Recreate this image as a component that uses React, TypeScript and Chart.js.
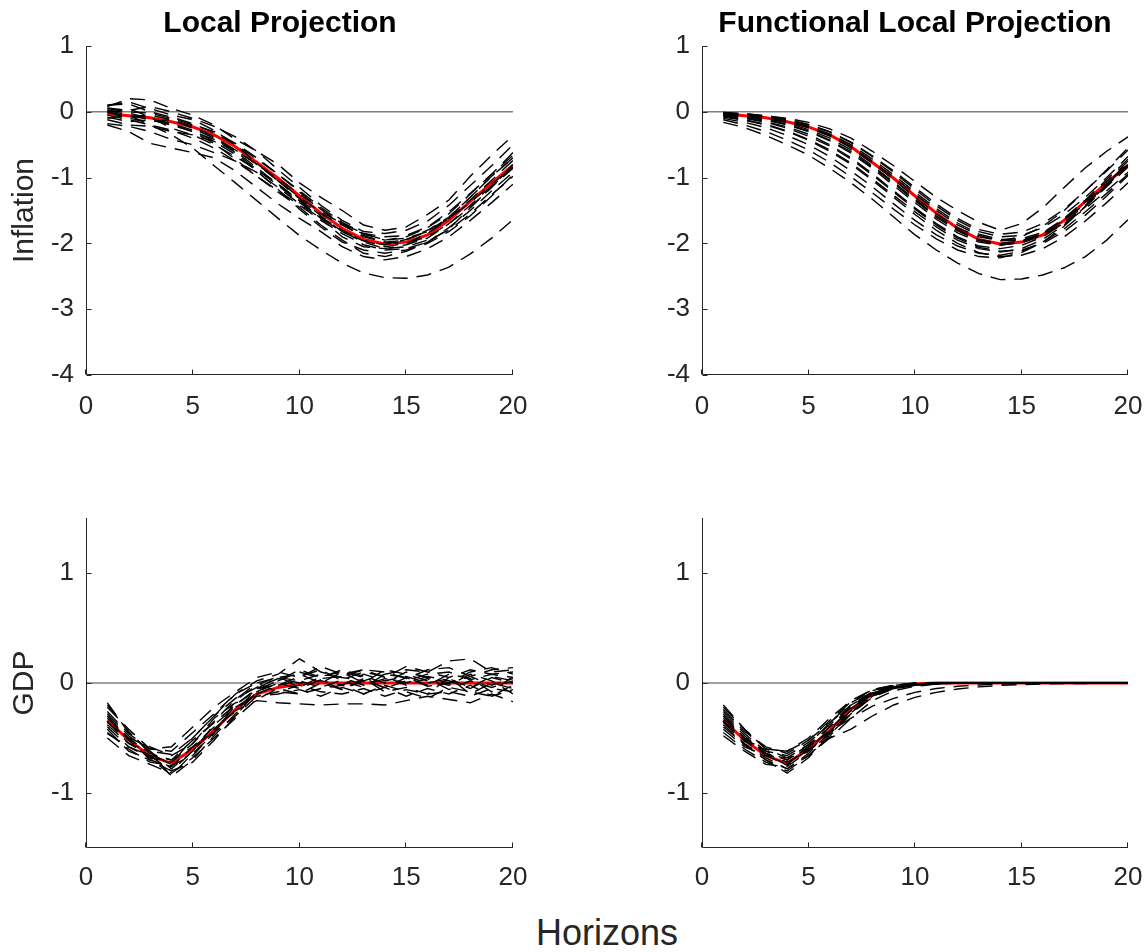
import React, { useEffect, useRef } from "react";
import { Chart, registerables } from "chart.js";

Chart.register(...registerables);

const FONT = "'Liberation Sans', Arial, Helvetica, sans-serif";

const HORIZONS = [1, 2, 3, 4, 5, 6, 7, 8, 9, 10, 11, 12, 13, 14, 15, 16, 17, 18, 19, 20];
const X_TICKS = [0, 5, 10, 15, 20];
const INFLATION_TICKS = [1, 0, -1, -2, -3, -4];
const GDP_TICKS = [1, 0, -1];

const TRUE_INFLATION = [-0.03, -0.06, -0.09, -0.15, -0.23, -0.35, -0.53, -0.77, -1.01, -1.28, -1.54, -1.77, -1.94, -2.01, -1.98, -1.87, -1.65, -1.36, -1.08, -0.81];
const TRUE_GDP = [-0.34, -0.52, -0.66, -0.73, -0.6, -0.43, -0.24, -0.1, -0.04, -0.01, 0, 0, 0, 0, 0, 0, 0, 0, 0, 0];

const LP_INFLATION = [
  [0.02, -0.05, -0.2, -0.35, -0.55, -0.82, -1.08, -1.35, -1.62, -1.88, -2.1, -2.3, -2.45, -2.52, -2.53, -2.48, -2.36, -2.16, -1.92, -1.64],
  [0.08, 0.2, 0.18, 0.05, -0.05, -0.2, -0.42, -0.6, -0.8, -1.08, -1.3, -1.5, -1.72, -1.8, -1.75, -1.56, -1.34, -0.98, -0.66, -0.36],
  [-0.1, -0.05, -0.12, -0.2, -0.3, -0.48, -0.72, -0.98, -1.22, -1.45, -1.72, -1.95, -2.15, -2.2, -2.12, -1.98, -1.76, -1.5, -1.2, -0.92],
  [0.05, 0.0, -0.02, -0.1, -0.2, -0.3, -0.48, -0.7, -0.95, -1.2, -1.45, -1.68, -1.85, -1.9, -1.88, -1.75, -1.52, -1.24, -0.95, -0.62],
  [-0.18, -0.22, -0.3, -0.42, -0.5, -0.62, -0.75, -0.92, -1.15, -1.4, -1.62, -1.82, -1.98, -2.08, -2.05, -1.95, -1.8, -1.55, -1.26, -0.98],
  [0.1, 0.15, 0.05, -0.05, -0.12, -0.28, -0.5, -0.78, -1.05, -1.32, -1.58, -1.82, -1.96, -2.02, -1.94, -1.8, -1.6, -1.3, -0.98, -0.7],
  [-0.05, -0.12, -0.2, -0.28, -0.4, -0.55, -0.75, -0.98, -1.2, -1.42, -1.65, -1.85, -2.02, -2.1, -2.08, -1.98, -1.78, -1.46, -1.14, -0.86],
  [0.0, -0.08, -0.05, -0.12, -0.25, -0.4, -0.6, -0.85, -1.1, -1.35, -1.55, -1.72, -1.88, -1.98, -2.0, -1.9, -1.7, -1.45, -1.15, -0.8],
  [-0.2, -0.3, -0.48, -0.55, -0.62, -0.7, -0.9, -1.15, -1.4, -1.62, -1.82, -2.05, -2.2, -2.25, -2.2, -2.08, -1.9, -1.65, -1.38, -1.1],
  [0.06, 0.02, 0.08, 0.0, -0.1, -0.22, -0.38, -0.6, -0.88, -1.15, -1.42, -1.65, -1.82, -1.85, -1.8, -1.66, -1.42, -1.12, -0.82, -0.5],
  [-0.08, -0.15, -0.12, -0.2, -0.3, -0.42, -0.62, -0.88, -1.12, -1.38, -1.6, -1.8, -1.96, -2.05, -2.0, -1.85, -1.62, -1.34, -1.04, -0.74],
  [0.03, -0.02, -0.1, -0.18, -0.28, -0.45, -0.65, -0.9, -1.18, -1.48, -1.75, -1.98, -2.1, -2.15, -2.1, -2.0, -1.82, -1.58, -1.28, -0.96],
  [-0.12, -0.2, -0.22, -0.3, -0.35, -0.45, -0.58, -0.8, -1.05, -1.3, -1.52, -1.7, -1.85, -1.95, -1.92, -1.82, -1.62, -1.38, -1.1, -0.84],
  [0.1, 0.12, 0.0, -0.08, -0.18, -0.32, -0.5, -0.72, -0.95, -1.22, -1.48, -1.7, -1.86, -1.95, -1.9, -1.76, -1.55, -1.25, -0.95, -0.66],
  [-0.02, 0.05, -0.08, -0.25, -0.35, -0.5, -0.68, -0.88, -1.1, -1.35, -1.62, -1.9, -2.05, -2.08, -2.02, -1.92, -1.7, -1.42, -1.12, -0.84],
  [0.0, -0.1, -0.15, -0.12, -0.22, -0.38, -0.58, -0.8, -1.02, -1.25, -1.48, -1.72, -1.9, -1.98, -1.95, -1.82, -1.6, -1.3, -0.98, -0.7],
];

const FLP_INFLATION = [
  [-0.16, -0.24, -0.36, -0.5, -0.66, -0.86, -1.08, -1.33, -1.6, -1.87, -2.1, -2.3, -2.46, -2.55, -2.54, -2.48, -2.37, -2.2, -1.95, -1.64],
  [-0.01, -0.03, -0.06, -0.1, -0.16, -0.26, -0.4, -0.6, -0.82, -1.06, -1.3, -1.5, -1.68, -1.8, -1.7, -1.46, -1.15, -0.85, -0.6, -0.38],
  [-0.02, -0.05, -0.09, -0.15, -0.24, -0.37, -0.55, -0.78, -1.03, -1.3, -1.55, -1.76, -1.9, -1.96, -1.9, -1.74, -1.5, -1.2, -0.88, -0.55],
  [-0.1, -0.16, -0.24, -0.36, -0.5, -0.68, -0.9, -1.14, -1.4, -1.65, -1.87, -2.04, -2.15, -2.18, -2.12, -1.98, -1.78, -1.52, -1.24, -0.95],
  [-0.05, -0.09, -0.15, -0.23, -0.34, -0.5, -0.7, -0.94, -1.2, -1.46, -1.7, -1.9, -2.04, -2.08, -2.03, -1.9, -1.7, -1.44, -1.14, -0.84],
  [-0.03, -0.06, -0.1, -0.17, -0.27, -0.4, -0.58, -0.82, -1.07, -1.33, -1.58, -1.79, -1.94, -2.0, -1.96, -1.84, -1.62, -1.34, -1.03, -0.72],
  [-0.07, -0.12, -0.19, -0.29, -0.42, -0.58, -0.78, -1.02, -1.27, -1.52, -1.75, -1.95, -2.08, -2.13, -2.08, -1.94, -1.72, -1.44, -1.12, -0.8],
  [-0.02, -0.04, -0.07, -0.12, -0.2, -0.31, -0.47, -0.68, -0.92, -1.18, -1.43, -1.65, -1.82, -1.9, -1.88, -1.76, -1.56, -1.3, -1.0, -0.68],
  [-0.12, -0.2, -0.3, -0.43, -0.58, -0.77, -0.99, -1.23, -1.48, -1.72, -1.93, -2.1, -2.2, -2.22, -2.14, -1.98, -1.74, -1.44, -1.1, -0.76],
  [-0.04, -0.08, -0.13, -0.2, -0.3, -0.44, -0.63, -0.86, -1.12, -1.38, -1.63, -1.84, -1.98, -2.03, -1.98, -1.85, -1.64, -1.37, -1.06, -0.75],
  [-0.03, -0.05, -0.09, -0.15, -0.24, -0.36, -0.53, -0.75, -0.99, -1.25, -1.5, -1.72, -1.88, -1.96, -1.95, -1.86, -1.7, -1.47, -1.2, -0.92],
  [-0.08, -0.13, -0.2, -0.3, -0.43, -0.6, -0.8, -1.04, -1.3, -1.56, -1.8, -2.0, -2.14, -2.2, -2.18, -2.08, -1.9, -1.66, -1.38, -1.08],
  [-0.02, -0.04, -0.08, -0.14, -0.22, -0.34, -0.5, -0.72, -0.96, -1.22, -1.47, -1.69, -1.86, -1.94, -1.93, -1.83, -1.65, -1.4, -1.1, -0.8],
  [-0.06, -0.1, -0.16, -0.25, -0.37, -0.52, -0.72, -0.96, -1.22, -1.48, -1.72, -1.92, -2.06, -2.12, -2.1, -2.0, -1.82, -1.57, -1.28, -0.97],
  [-0.04, -0.07, -0.12, -0.19, -0.29, -0.43, -0.61, -0.84, -1.09, -1.35, -1.6, -1.81, -1.96, -2.02, -1.99, -1.88, -1.68, -1.42, -1.12, -0.82],
  [-0.01, -0.03, -0.06, -0.11, -0.19, -0.3, -0.46, -0.67, -0.9, -1.15, -1.4, -1.62, -1.79, -1.86, -1.83, -1.7, -1.48, -1.2, -0.9, -0.58],
];

const LP_GDP = [
  [-0.18, -0.45, -0.62, -0.65, -0.5, -0.3, -0.1, 0.02, 0.08, 0.22, 0.1, 0.05, 0.02, 0.08, 0.12, 0.1, 0.2, 0.22, 0.1, 0.12],
  [-0.3, -0.5, -0.7, -0.8, -0.62, -0.42, -0.25, -0.16, -0.18, -0.19, -0.2, -0.19, -0.19, -0.2, -0.16, -0.12, -0.15, -0.18, -0.1, -0.17],
  [-0.4, -0.58, -0.68, -0.72, -0.55, -0.35, -0.15, 0.0, 0.05, 0.02, 0.08, 0.05, -0.02, 0.04, 0.0, 0.06, 0.02, -0.05, 0.05, 0.0],
  [-0.28, -0.48, -0.62, -0.85, -0.7, -0.48, -0.28, -0.08, 0.0, -0.05, 0.03, -0.06, 0.02, -0.04, 0.05, -0.03, 0.0, 0.06, -0.02, 0.04],
  [-0.45, -0.6, -0.72, -0.75, -0.66, -0.45, -0.2, -0.05, 0.05, 0.08, 0.0, 0.1, 0.05, -0.05, 0.02, 0.08, 0.1, 0.03, 0.08, 0.05],
  [-0.22, -0.42, -0.6, -0.58, -0.4, -0.22, -0.08, 0.05, 0.1, 0.05, 0.15, 0.08, 0.12, 0.05, 0.15, 0.1, 0.05, 0.12, 0.08, 0.1],
  [-0.35, -0.55, -0.66, -0.7, -0.58, -0.45, -0.3, -0.12, -0.08, -0.02, -0.08, -0.1, -0.05, -0.12, -0.06, -0.1, -0.08, -0.12, -0.05, -0.08],
  [-0.5, -0.66, -0.74, -0.82, -0.68, -0.5, -0.32, -0.15, -0.05, -0.1, -0.05, -0.02, -0.1, -0.04, -0.12, -0.05, -0.1, -0.02, -0.12, -0.06],
  [-0.32, -0.5, -0.64, -0.7, -0.52, -0.36, -0.2, -0.06, 0.02, 0.12, 0.05, 0.12, 0.06, 0.0, 0.1, 0.05, 0.0, 0.1, 0.14, 0.08],
  [-0.38, -0.55, -0.62, -0.78, -0.62, -0.38, -0.22, -0.1, -0.02, 0.02, -0.04, 0.03, 0.1, 0.06, -0.02, 0.04, -0.06, 0.02, -0.04, 0.02],
  [-0.26, -0.46, -0.6, -0.62, -0.45, -0.28, -0.1, 0.0, -0.08, -0.1, 0.0, -0.06, 0.04, -0.08, -0.04, -0.1, 0.05, -0.1, 0.0, -0.05],
  [-0.42, -0.62, -0.7, -0.76, -0.58, -0.4, -0.26, -0.05, -0.02, 0.06, 0.12, 0.02, -0.04, 0.08, 0.05, -0.02, 0.08, 0.04, -0.08, 0.06],
  [-0.3, -0.52, -0.68, -0.84, -0.64, -0.46, -0.16, -0.02, 0.06, -0.04, 0.06, 0.1, 0.0, 0.12, 0.08, 0.02, -0.02, 0.08, 0.02, -0.1],
  [-0.36, -0.5, -0.58, -0.66, -0.55, -0.32, -0.18, -0.12, -0.1, -0.06, -0.12, -0.04, -0.1, -0.02, -0.08, -0.14, -0.04, -0.08, -0.12, -0.02],
  [-0.2, -0.44, -0.64, -0.74, -0.5, -0.3, -0.14, -0.04, 0.04, 0.0, 0.02, -0.02, 0.08, 0.02, 0.06, 0.0, 0.04, -0.04, 0.06, 0.02],
  [-0.46, -0.58, -0.66, -0.8, -0.72, -0.52, -0.3, -0.08, 0.02, 0.1, 0.04, 0.06, 0.12, 0.1, 0.04, 0.12, 0.14, 0.06, 0.12, 0.14],
];

const FLP_GDP = [
  [-0.2, -0.42, -0.6, -0.62, -0.5, -0.32, -0.16, -0.06, -0.02, -0.01, 0, 0, 0, 0, 0, 0, 0, 0, 0, 0],
  [-0.45, -0.6, -0.72, -0.8, -0.66, -0.48, -0.28, -0.12, -0.05, -0.02, -0.01, 0, 0, 0, 0, 0, 0, 0, 0, 0],
  [-0.3, -0.5, -0.62, -0.66, -0.54, -0.38, -0.2, -0.08, -0.03, -0.01, 0, 0, 0, 0, 0, 0, 0, 0, 0, 0],
  [-0.38, -0.56, -0.7, -0.78, -0.64, -0.45, -0.26, -0.11, -0.04, -0.015, -0.005, 0, 0, 0, 0, 0, 0, 0, 0, 0],
  [-0.26, -0.46, -0.62, -0.7, -0.56, -0.36, -0.18, -0.07, -0.02, -0.01, 0, 0, 0, 0, 0, 0, 0, 0, 0, 0],
  [-0.48, -0.62, -0.74, -0.76, -0.62, -0.44, -0.25, -0.1, -0.04, -0.01, 0, 0, 0, 0, 0, 0, 0, 0, 0, 0],
  [-0.34, -0.53, -0.64, -0.72, -0.62, -0.46, -0.28, -0.13, -0.05, -0.02, -0.01, 0, 0, 0, 0, 0, 0, 0, 0, 0],
  [-0.42, -0.58, -0.66, -0.74, -0.58, -0.4, -0.21, -0.08, -0.02, 0, 0, 0, 0, 0, 0, 0, 0, 0, 0, 0],
  [-0.24, -0.44, -0.58, -0.64, -0.52, -0.34, -0.17, -0.06, -0.02, 0, 0, 0, 0, 0, 0, 0, 0, 0, 0, 0],
  [-0.36, -0.55, -0.68, -0.78, -0.66, -0.5, -0.32, -0.16, -0.07, -0.03, -0.01, 0, 0, 0, 0, 0, 0, 0, 0, 0],
  [-0.32, -0.5, -0.66, -0.68, -0.56, -0.4, -0.22, -0.09, -0.03, -0.01, 0, 0, 0, 0, 0, 0, 0, 0, 0, 0],
  [-0.4, -0.56, -0.7, -0.82, -0.68, -0.47, -0.27, -0.12, -0.05, -0.02, 0, 0, 0, 0, 0, 0, 0, 0, 0, 0],
  [-0.28, -0.48, -0.64, -0.75, -0.6, -0.42, -0.23, -0.1, -0.04, -0.01, 0, 0, 0, 0, 0, 0, 0, 0, 0, 0],
  [-0.35, -0.52, -0.6, -0.62, -0.52, -0.36, -0.2, -0.09, -0.04, -0.02, -0.01, 0, 0, 0, 0, 0, 0, 0, 0, 0],
  [-0.22, -0.42, -0.6, -0.68, -0.6, -0.5, -0.42, -0.3, -0.2, -0.13, -0.085, -0.055, -0.035, -0.022, -0.014, -0.009, -0.006, -0.004, -0.002, -0.001],
  [-0.3, -0.5, -0.64, -0.7, -0.58, -0.44, -0.32, -0.21, -0.14, -0.085, -0.05, -0.03, -0.018, -0.01, -0.006, -0.003, -0.002, -0.001, 0, 0],
];

type PanelProps = {
  left: number;
  top: number;
  width: number;
  height: number;
  areaLeft: number;
  areaTop: number;
  areaRight: number;
  areaBottom: number;
  yMin: number;
  yMax: number;
  yTicks: number[];
  draws: number[][];
  truth: number[];
  title?: string;
  titleFull?: boolean;
  yLabel: string;
  xTickPad: number;
};

const axesPlugin = {
  id: "matlabAxes",
  afterDraw(chart: any) {
    const { ctx, chartArea, scales } = chart;
    const l = Math.round(chartArea.left) + 0.5;
    const b = Math.round(chartArea.bottom) - 0.5;
    const t = chartArea.top;
    const r = chartArea.right;
    ctx.save();
    ctx.strokeStyle = "#262626";
    ctx.lineWidth = 1;
    ctx.beginPath();
    ctx.moveTo(l, t);
    ctx.lineTo(l, b);
    ctx.lineTo(r, b);
    for (const tk of scales.x.ticks) {
      const px = Math.round(scales.x.getPixelForValue(tk.value)) - 0.5;
      ctx.moveTo(px, b);
      ctx.lineTo(px, b - 5);
    }
    for (const tk of scales.y.ticks) {
      const py = Math.round(scales.y.getPixelForValue(tk.value)) + 0.5;
      ctx.moveTo(l, py);
      ctx.lineTo(l + 5, py);
    }
    ctx.stroke();
    ctx.restore();
  },
};

function Panel(p: PanelProps) {
  const ref = useRef<HTMLCanvasElement | null>(null);
  useEffect(() => {
    if (!ref.current) return;
    const yWidth = p.areaLeft - p.left;
    const rightGap = p.left + p.width - p.areaRight;
    const xHeight = p.top + p.height - p.areaBottom;
    const titleHeight = p.areaTop - p.top;
    const titleSize = 30;
    const titleLine = titleSize * 1.2;
    const titlePadTop = 23.5 - p.top - titleLine / 2;

    const toPoints = (arr: number[]) => HORIZONS.map((h, i) => ({ x: h, y: arr[i] }));

    const datasets: any[] = p.draws.map((d) => ({
      data: toPoints(d),
      borderColor: "#000000",
      borderWidth: 1.4,
      borderDash: [15, 9],
      pointRadius: 0,
      fill: false,
      order: 0,
    }));
    datasets.push({
      data: toPoints(p.truth),
      borderColor: "#ff0000",
      borderWidth: 3,
      pointRadius: 0,
      fill: false,
      order: 1,
    });
    datasets.push({
      data: [
        { x: X_TICKS[0], y: 0 },
        { x: X_TICKS[X_TICKS.length - 1], y: 0 },
      ],
      borderColor: "#808080",
      borderWidth: 1.5,
      pointRadius: 0,
      fill: false,
      order: 2,
    });

    const chart = new Chart(ref.current, {
      type: "line",
      data: { datasets },
      options: {
        animation: false,
        responsive: false,
        devicePixelRatio: 1,
        layout: { padding: { top: p.title ? 0 : titleHeight, left: 0, right: 0, bottom: 0 } },
        elements: { line: { tension: 0 }, point: { radius: 0 } },
        plugins: {
          legend: { display: false },
          tooltip: { enabled: false },
          title: p.title
            ? {
                display: true,
                text: p.title,
                color: "#000000",
                fullSize: !!p.titleFull,
                font: { family: FONT, size: titleSize, weight: "bold", lineHeight: 1.2 },
                padding: { top: titlePadTop, bottom: titleHeight - titleLine - titlePadTop },
              }
            : { display: false },
        },
        scales: {
          x: {
            type: "linear",
            min: 0,
            max: 20,
            grid: { display: false, drawTicks: false },
            border: { display: false },
            ticks: {
              font: { family: FONT, size: 26, lineHeight: 1.2 },
              color: "#262626",
              padding: p.xTickPad,
              maxRotation: 0,
              callback: (v: any) => String(v),
            },
            afterBuildTicks: (axis: any) => {
              axis.ticks = X_TICKS.map((v) => ({ value: v }));
            },
            afterFit: (axis: any) => {
              axis.height = xHeight;
              axis.paddingLeft = 0;
              axis.paddingRight = rightGap;
            },
          },
          y: {
            type: "linear",
            min: p.yMin,
            max: p.yMax,
            grid: { display: false, drawTicks: false },
            border: { display: false },
            ticks: {
              font: { family: FONT, size: 26 },
              color: "#262626",
              padding: 12,
              callback: (v: any) => String(v),
            },
            title: {
              display: true,
              text: p.yLabel,
              color: "#262626",
              font: { family: FONT, size: 30, lineHeight: 1.2 },
              padding: { top: 7, bottom: 0 },
            },
            afterBuildTicks: (axis: any) => {
              axis.ticks = p.yTicks.map((v) => ({ value: v }));
            },
            afterFit: (axis: any) => {
              axis.width = yWidth;
              axis.paddingTop = 0;
              axis.paddingBottom = 0;
            },
          },
        },
      } as any,
      plugins: [axesPlugin],
    });
    return () => chart.destroy();
  }, []);

  return (
    <canvas
      ref={ref}
      width={p.width}
      height={p.height}
      style={{ position: "absolute", left: p.left, top: p.top, width: p.width, height: p.height }}
    />
  );
}

export default function App() {
  return (
    <div
      style={{
        position: "absolute",
        left: 0,
        top: 0,
        width: 1147,
        height: 952,
        background: "#ffffff",
        overflow: "hidden",
      }}
    >
      <Panel
        left={0}
        top={0}
        width={560}
        height={440}
        areaLeft={86}
        areaTop={46}
        areaRight={513}
        areaBottom={375}
        yMin={-4}
        yMax={1}
        yTicks={INFLATION_TICKS}
        draws={LP_INFLATION}
        truth={TRUE_INFLATION}
        title="Local Projection"
        titleFull={true}
        yLabel="Inflation"
        xTickPad={16}
      />
      <Panel
        left={660}
        top={0}
        width={487}
        height={440}
        areaLeft={702}
        areaTop={46}
        areaRight={1128}
        areaBottom={375}
        yMin={-4}
        yMax={1}
        yTicks={INFLATION_TICKS}
        draws={FLP_INFLATION}
        truth={TRUE_INFLATION}
        title="Functional Local Projection"
        titleFull={false}
        yLabel=""
        xTickPad={16}
      />
      <Panel
        left={0}
        top={470}
        width={560}
        height={440}
        areaLeft={86}
        areaTop={518}
        areaRight={513}
        areaBottom={848}
        yMin={-1.5}
        yMax={1.5}
        yTicks={GDP_TICKS}
        draws={LP_GDP}
        truth={TRUE_GDP}
        yLabel="GDP"
        xTickPad={14}
      />
      <Panel
        left={660}
        top={470}
        width={487}
        height={440}
        areaLeft={702}
        areaTop={518}
        areaRight={1128}
        areaBottom={848}
        yMin={-1.5}
        yMax={1.5}
        yTicks={GDP_TICKS}
        draws={FLP_GDP}
        truth={TRUE_GDP}
        yLabel=""
        xTickPad={14}
      />
      <div
        style={{
          position: "absolute",
          left: 407,
          top: 915,
          width: 400,
          height: 36,
          lineHeight: "36px",
          textAlign: "center",
          fontFamily: FONT,
          fontSize: 36,
          color: "#262626",
        }}
      >
        Horizons
      </div>
    </div>
  );
}
